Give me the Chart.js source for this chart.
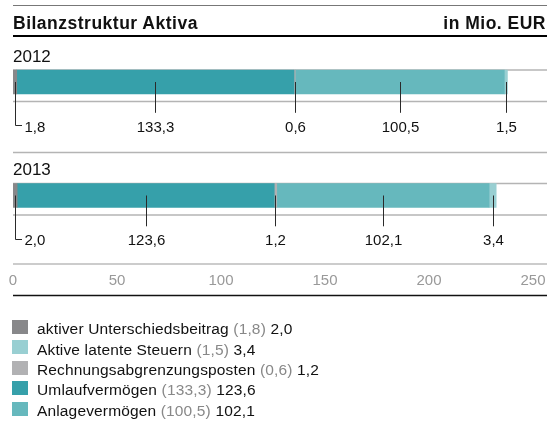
<!DOCTYPE html>
<html>
<head>
<meta charset="utf-8">
<script src="https://cdn.jsdelivr.net/npm/chart.js@4.4.0/dist/chart.umd.min.js"></script>
<style>
  html, body { margin: 0; padding: 0; background: #fff; }
  #wrap { position: relative; width: 547px; height: 423px; overflow: hidden;
          font-family: "Liberation Sans", Arial, Helvetica, sans-serif; color: #111; }
  #c { position: absolute; left: 0; top: 0; }
  .hl { position: absolute; left: 13px; width: 534px; height: 0; }
  #topline { top: 5px; border-top: 1px solid #777; }
  #titleline { top: 34.5px; border-top: 2.5px solid #000; }
  .title { position: absolute; top: 12.6px; font-size: 17.5px; line-height: 20px; font-weight: bold;
           letter-spacing: 0.5px; white-space: nowrap; }
  #tleft { left: 13px; }
  #tright { right: 1px; }
  .lg-sq { position: absolute; left: 12px; width: 16px; height: 14px; }
  .lg-tx { position: absolute; left: 37px; font-size: 15.5px; line-height: 20px; letter-spacing: 0.15px;
           white-space: nowrap; color: #111; }
  .lg-tx .prev { color: #888; }
</style>
</head>
<body>
<div id="wrap">
  <canvas id="c" width="547" height="423"></canvas>
  <div id="topline" class="hl"></div>
  <div id="tleft" class="title">Bilanzstruktur Aktiva</div>
  <div id="tright" class="title">in Mio. EUR</div>
  <div id="titleline" class="hl"></div>
  <div id="legend"></div>
</div>
<script>
// ---- data ----
const categories = ['2012', '2013'];
const aktiverUnterschiedsbeitrag = [1.8, 2.0];
const umlaufvermoegen = [133.3, 123.6];
const rechnungsabgrenzungsposten = [0.6, 1.2];
const anlagevermoegen = [100.5, 102.1];
const aktiveLatenteSteuern = [1.5, 3.4];
const xTickValues = [0, 50, 100, 150, 200, 250];

const names = {
  aub: 'aktiver Unterschiedsbeitrag',
  als: 'Aktive latente Steuern',
  rap: 'Rechnungsabgrenzungsposten',
  uv: 'Umlaufvermögen',
  av: 'Anlagevermögen'
};
const colors = {
  aub: '#88888a',
  als: '#99cfd2',
  rap: '#b1b1b3',
  uv: '#36a0aa',
  av: '#66b8bd'
};
const values = {
  aub: aktiverUnterschiedsbeitrag,
  als: aktiveLatenteSteuern,
  rap: rechnungsabgrenzungsposten,
  uv: umlaufvermoegen,
  av: anlagevermoegen
};
const stackOrder = ['aub', 'uv', 'rap', 'av', 'als'];
const legendOrder = ['aub', 'als', 'rap', 'uv', 'av'];

const fmt = v => v.toFixed(1).replace('.', ',');
const FONT = '"Liberation Sans", Arial, Helvetica, sans-serif';
const BAR = 24;
const LINE_L = 13, LINE_R = 547;

// ---- legend (HTML) ----
const lg = document.getElementById('legend');
legendOrder.forEach((k, i) => {
  const baseline = 334.5 + i * 20.4;
  const sq = document.createElement('div');
  sq.className = 'lg-sq';
  sq.style.top = (baseline - 14.5) + 'px';
  sq.style.background = colors[k];
  lg.appendChild(sq);
  const tx = document.createElement('div');
  tx.className = 'lg-tx';
  tx.style.top = (baseline - 15.3) + 'px';
  tx.innerHTML = names[k] + ' <span class="prev">(' + fmt(values[k][0]) + ')</span> ' + fmt(values[k][1]);
  lg.appendChild(tx);
});

function hline(ctx, y, color, w) {
  ctx.beginPath();
  ctx.strokeStyle = color;
  ctx.lineWidth = w;
  ctx.moveTo(LINE_L, y);
  ctx.lineTo(LINE_R, y);
  ctx.stroke();
}

const deco = {
  id: 'deco',
  beforeDatasetsDraw(chart) {
    const ctx = chart.ctx;
    const ys = chart.scales.y;
    const xs = chart.scales.x;
    ctx.save();
    categories.forEach((c, i) => {
      const cy = ys.getPixelForValue(i);
      const top = cy - BAR / 2, bottom = cy + BAR / 2;
      hline(ctx, top, '#b4b4b4', 1.5);
      hline(ctx, bottom + 7.5, '#b4b4b4', 1.5);
      if (i < categories.length - 1) hline(ctx, bottom + 58.5, '#b4b4b4', 1.5);
      ctx.fillStyle = '#111';
      ctx.font = '17px ' + FONT;
      ctx.textAlign = 'left';
      ctx.textBaseline = 'alphabetic';
      ctx.fillText(c, 13, top - 8.5);
    });
    hline(ctx, xs.top + 11.75, '#bbbbbb', 1.5);
    hline(ctx, xs.top + 43.25, '#111', 1.5);
    ctx.restore();
  },
  afterDatasetsDraw(chart) {
    const ctx = chart.ctx;
    ctx.save();
    ctx.font = '15px ' + FONT;
    ctx.fillStyle = '#111';
    ctx.textBaseline = 'alphabetic';
    categories.forEach((c, i) => {
      chart.data.datasets.forEach((ds, d) => {
        const el = chart.getDatasetMeta(d).data[i];
        const p = el.getProps(['x', 'base', 'y', 'height'], true);
        const cx = Math.round((p.x + p.base) / 2) + 0.5;
        const bottom = p.y + p.height / 2;
        const baseline = bottom + 37.5;
        const capTop = baseline - 10.7;
        ctx.beginPath();
        ctx.strokeStyle = '#2a2a2a';
        ctx.lineWidth = 1;
        ctx.moveTo(cx, p.y);
        const label = fmt(ds.data[i]);
        if (d === 0) {
          const ly = Math.round(capTop + 4.5) + 0.5;
          ctx.lineTo(cx, ly);
          ctx.lineTo(cx + 6.5, ly);
          ctx.stroke();
          ctx.textAlign = 'left';
          ctx.fillText(label, cx + 9, baseline);
        } else {
          ctx.lineTo(cx, capTop - 8);
          ctx.stroke();
          ctx.textAlign = 'center';
          ctx.fillText(label, cx, baseline);
        }
      });
    });
    ctx.restore();
  }
};

new Chart(document.getElementById('c'), {
  type: 'bar',
  data: {
    labels: categories,
    datasets: stackOrder.map(k => ({
      label: names[k],
      data: values[k],
      backgroundColor: colors[k],
      borderWidth: 0,
      barThickness: BAR
    }))
  },
  options: {
    indexAxis: 'y',
    responsive: false,
    animation: false,
    devicePixelRatio: 1,
    layout: { padding: { left: 13, right: 14, top: 25.25, bottom: 130.75 } },
    plugins: { legend: { display: false }, tooltip: { enabled: false } },
    scales: {
      y: { display: false, stacked: true },
      x: {
        stacked: true,
        min: 0,
        max: 250,
        afterBuildTicks: s => { s.ticks = xTickValues.map(v => ({ value: v })); },
        afterFit: s => { s.height = 40; },
        grid: { display: false, drawTicks: true, tickLength: 20 },
        border: { display: false },
        ticks: {
          padding: 0,
          maxRotation: 0,
          autoSkip: false,
          color: '#999',
          font: { family: FONT, size: 15 },
          callback: v => String(v)
        }
      }
    }
  },
  plugins: [deco]
});
</script>
</body>
</html>
